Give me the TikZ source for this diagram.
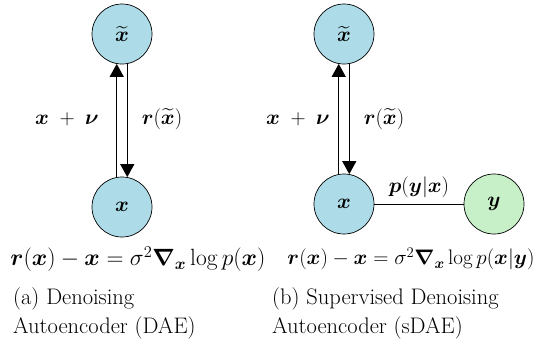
\RequirePackage{fix-cm}
\documentclass[tikz,border=0pt]{standalone}
\usepackage{amsmath}
\usepackage{bm}
\usetikzlibrary{arrows.meta}
\definecolor{nodeblue}{RGB}{173,220,232}
\definecolor{nodegreen}{RGB}{200,240,200}
\newcommand{\fsz}[1]{\fontsize{#1}{#1}\selectfont}
\tikzset{
  bnode/.style={circle, draw=black, line width=0.7pt, fill=nodeblue, minimum size=60pt, inner sep=0pt, font=\fsz{21}},
  gnode/.style={circle, draw=black, line width=0.7pt, fill=nodegreen, minimum size=60pt, inner sep=0pt, font=\fsz{21}},
  arr/.style={line width=1.3pt, -{Triangle[length=13pt,width=14pt]}},
  lbl/.style={font=\fsz{21}, inner sep=0pt},
  captext/.style={font=\fsz{22.5}, inner sep=0pt, anchor=base west},
}
\begin{document}
\begin{tikzpicture}[x=1pt,y=-1pt]
\useasboundingbox (0,0) rectangle (543,349);
% left
\node[bnode] (xt1) at (122,34) {$\widetilde{\bm x}$};
\node[bnode] (x1) at (122,207) {$\bm x$};
\draw[arr] (x1.100) -- (xt1.260);
\draw[arr] (xt1.280) -- (x1.80);
\node[lbl] (l1) at (67,119) {$\bm x\;+\;\bm\nu$};
\node[lbl] (r1) at (162,119) {$\bm r(\widetilde{\bm x})$};
\node[lbl, font=\fsz{23.5}] (f1) at (138,259) {$\bm r(\bm x)-\bm x=\sigma^2\bm\nabla_{\bm x}\log p(\bm x)$};
\node[captext] (c1a) at (13,304) {(a) Denoising};
\node[captext] (c1b) at (13,333) {Autoencoder (DAE)};
% right
\node[bnode] (xt2) at (344,34) {$\widetilde{\bm x}$};
\node[bnode] (x2) at (344,204) {$\bm x$};
\node[gnode] (y2) at (494,204) {$\bm y$};
\draw[arr] (x2.100) -- (xt2.260);
\draw[arr] (xt2.280) -- (x2.80);
\draw[line width=0.9pt] (x2) -- node[lbl, above=6pt] (pl) {$\bm p(\bm y|\bm x)$} (y2);
\node[lbl] (l2) at (298,119) {$\bm x\;+\;\bm\nu$};
\node[lbl] (r2) at (384,119) {$\bm r(\widetilde{\bm x})$};
\node[lbl, font=\fsz{21}] (f2) at (411,259) {$\bm r(\bm x)-\bm x=\sigma^2\bm\nabla_{\bm x}\log p(\bm x|\bm y)$};
\node[captext] (c2a) at (272,304) {(b) Supervised Denoising};
\node[captext] (c2b) at (272,333) {Autoencoder (sDAE)};
\end{tikzpicture}
\end{document}
